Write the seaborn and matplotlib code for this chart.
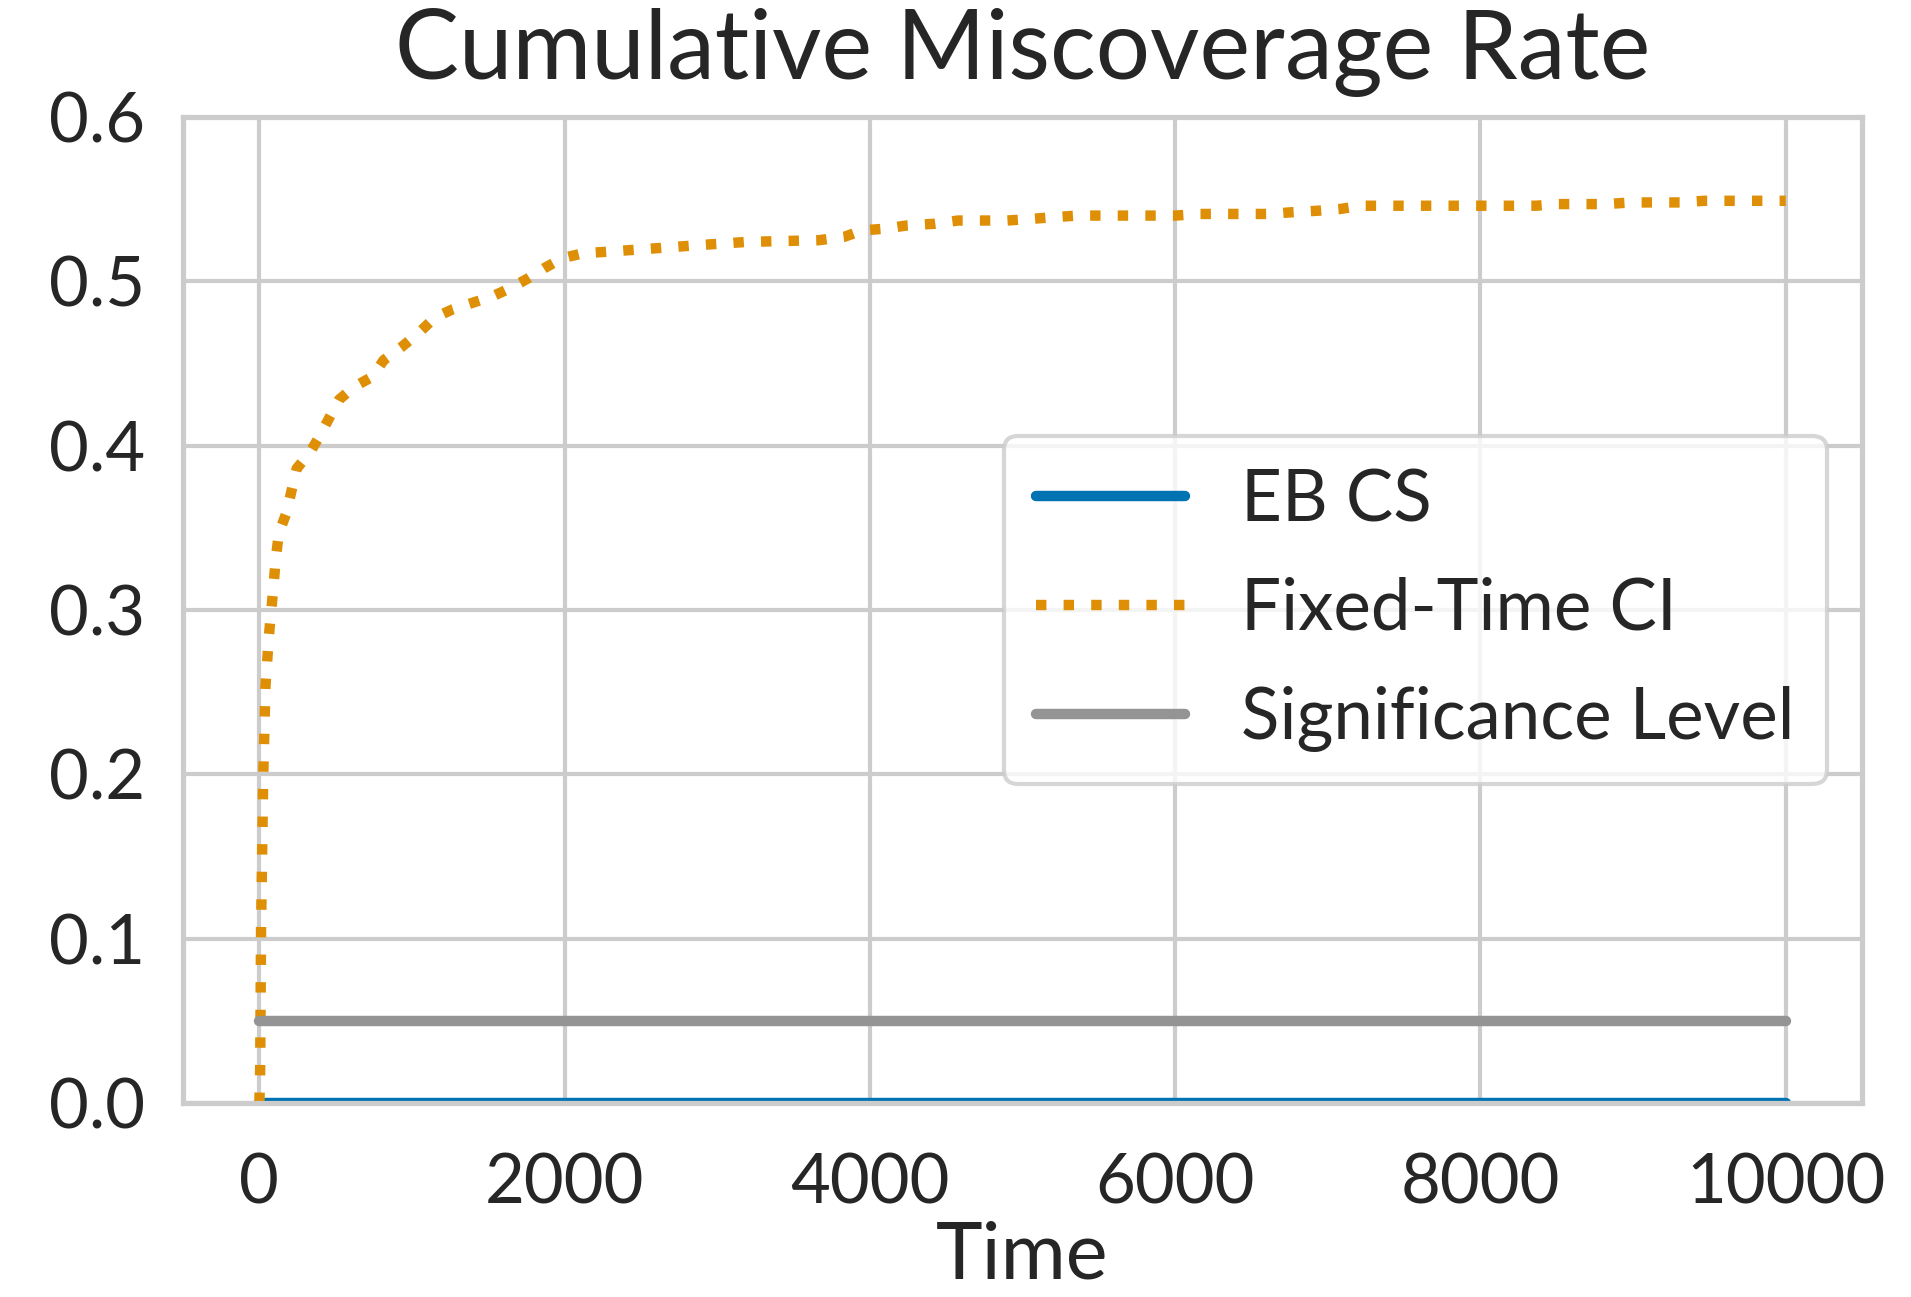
import numpy as np
import pandas as pd
import matplotlib
matplotlib.use("Agg")
import matplotlib.pyplot as plt
import seaborn as sns

# Cumulative miscoverage of the fixed-time confidence interval over time
time = [1, 6, 12, 26, 41, 64, 94, 108, 129, 178, 210, 245, 333, 397, 465, 523,
        625, 742, 815, 932, 1049, 1151, 1268, 1400, 1531, 1648, 1765, 1867, 1984,
        2116, 2276, 2583, 2875, 3197, 3664, 3830, 3950, 4096, 4243, 4418, 4578,
        4900, 5060, 5198, 5358, 6000, 6162, 6620, 6759, 6942, 7080, 7218, 8365,
        8503, 8825, 8985, 9306, 9467, 10000]
fixed_ci = [0.0, 0.02, 0.107, 0.198, 0.254, 0.285, 0.315, 0.331, 0.347, 0.359,
            0.372, 0.386, 0.396, 0.406, 0.418, 0.428, 0.436, 0.442, 0.452, 0.460,
            0.469, 0.478, 0.483, 0.487, 0.491, 0.496, 0.502, 0.508, 0.514, 0.517,
            0.518, 0.520, 0.522, 0.524, 0.525, 0.527, 0.531, 0.532, 0.534, 0.535,
            0.537, 0.537, 0.538, 0.539, 0.540, 0.540, 0.541, 0.541, 0.542, 0.543,
            0.544, 0.546, 0.546, 0.547, 0.547, 0.548, 0.548, 0.549, 0.549]

# Empirical-Bernstein confidence sequence never miscovers
eb_time = [1, 10000]
eb_cs = [0.0, 0.0]

# Nominal significance level
alpha_time = [1, 10000]
alpha_level = [0.05, 0.05]

sns.set_theme(style="whitegrid", palette="colorblind")
plt.rcParams["font.family"] = ["Lato", "DejaVu Sans"]
plt.rcParams["text.color"] = ".15"

colors = sns.color_palette("colorblind")

fig = plt.figure(figsize=(1911 / 300, 1297 / 300), dpi=300)
ax = fig.add_axes([0.0958, 0.1496, 0.9744 - 0.0958, 0.9098 - 0.1496])

lw = 2.5
sns.lineplot(x=eb_time, y=eb_cs, ax=ax, color=colors[0], linewidth=lw,
             label="EB CS", solid_capstyle="round")
sns.lineplot(x=time, y=fixed_ci, ax=ax, color=colors[1], linewidth=lw,
             linestyle=":", label="Fixed-Time CI")
sns.lineplot(x=alpha_time, y=alpha_level, ax=ax, color=colors[7], linewidth=lw,
             label="Significance Level", solid_capstyle="round")

ax.set_ylim(0, 0.6)
ax.set_xticks([0, 2000, 4000, 6000, 8000, 10000])
ax.set_yticks([0.0, 0.1, 0.2, 0.3, 0.4, 0.5, 0.6])
ax.set_yticklabels([f"{v:.1f}" for v in [0.0, 0.1, 0.2, 0.3, 0.4, 0.5, 0.6]])
ax.tick_params(axis="both", labelsize=16.5, colors=".15")
ax.tick_params(axis="y", pad=3)
ax.tick_params(axis="x", pad=6)
ax.set_xlabel("Time", fontsize=19, color=".15", labelpad=1)
ax.set_ylabel("")
ax.set_title("Cumulative Miscoverage Rate", fontsize=23, color=".15", pad=9)
for s in ax.spines.values():
    s.set_color(".8")
    s.set_linewidth(1.25)

ax.legend(loc="center right", fontsize=17, handlelength=2.1,
          labelspacing=0.62, handletextpad=0.8, borderpad=0.45)

fig.savefig("out.png", dpi=300)
